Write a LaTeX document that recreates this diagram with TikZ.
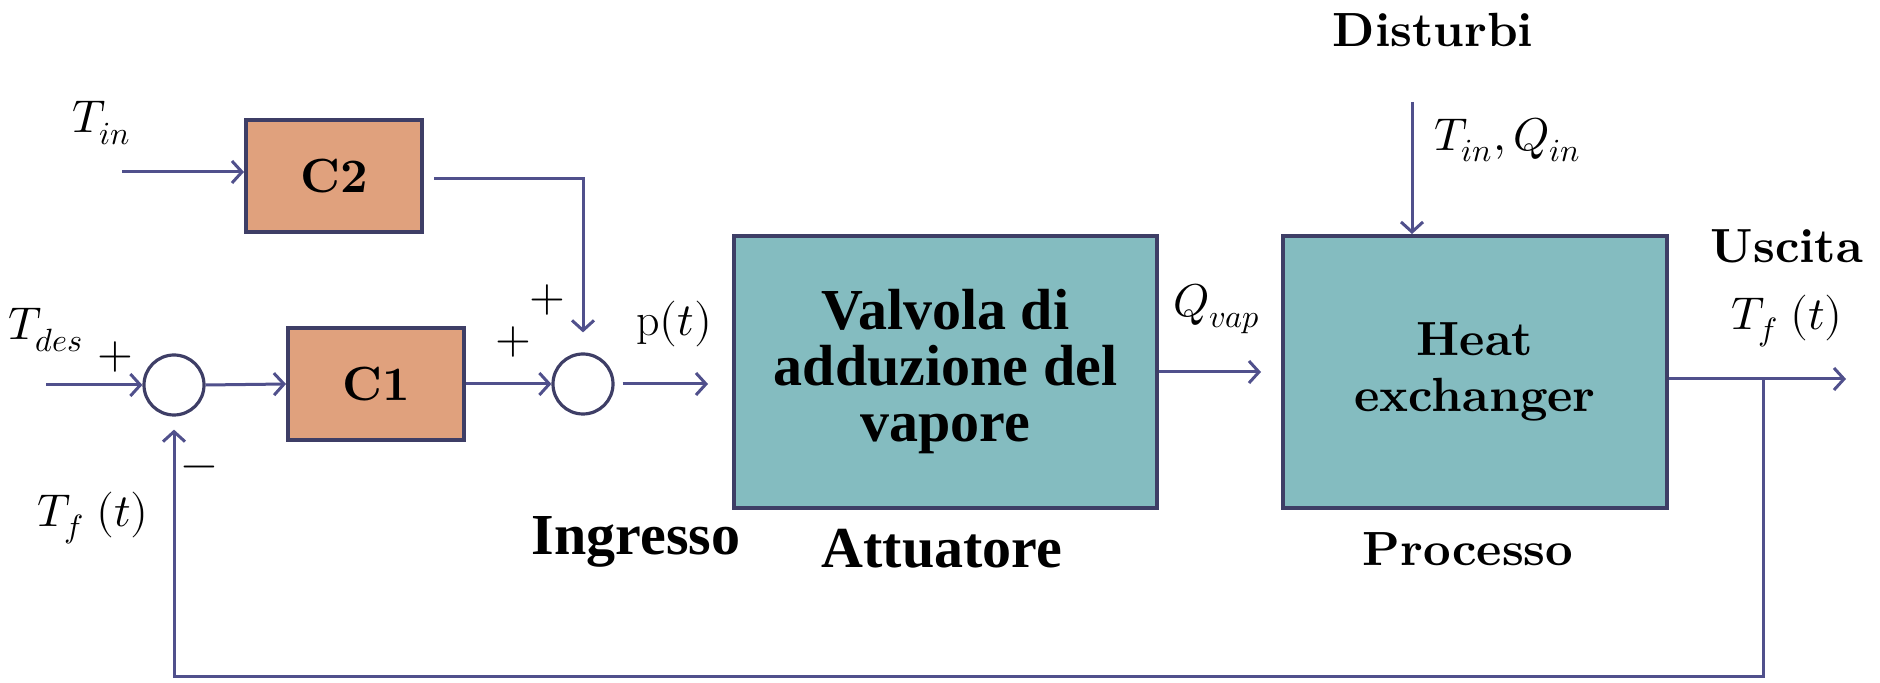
\documentclass[tikz,border=0pt]{standalone}
\usepackage{fontspec}
\usepackage{unicode-math}
\setmathfont{Latin Modern Math}
\newfontfamily\timesfont{Liberation Serif}
\newfontfamily\lmgrassetto{lmroman10-bold.otf}
\usepackage{tikz}
\usetikzlibrary{arrows.meta}

\definecolor{linea}{RGB}{80,80,140}
\definecolor{bordo}{RGB}{62,62,102}
\definecolor{arancio}{RGB}{224,161,125}
\definecolor{ciano}{RGB}{132,188,192}

\newcommand{\titolo}{\lmgrassetto\fontsize{24}{28}\selectfont}
\newcommand{\testovalv}{\timesfont\bfseries\fontsize{29}{28}\selectfont}
\newcommand{\etichetta}{\normalfont\fontsize{23}{26}\selectfont}

\tikzset{
  blocco/.style = {draw=bordo, line width=2pt, inner sep=0pt, align=center},
  ctrl/.style = {blocco, fill=arancio, minimum width=88pt, minimum height=56pt, font=\titolo},
  impianto/.style = {blocco, fill=ciano, minimum height=136pt},
  somma/.style = {circle, draw=bordo, line width=1.6pt, minimum size=30pt, inner sep=0pt},
  freccia/.style = {draw=linea, line width=1.5pt,
    -{Straight Barb[length=5pt,width=11pt,line width=1.5pt]}},
  lbl/.style = {font=\etichetta, inner sep=0pt},
}

\begin{document}
\begin{tikzpicture}[x=0.5pt, y=-0.5pt]
  \useasboundingbox (0,0) rectangle (1880,683);

  % blocchi
  \node[ctrl] (c2) at (334,176) {C2};
  \node[ctrl] (c1) at (376,384) {C1};
  \node[somma] (sum1) at (174,385) {};
  \node[somma] (sum2) at (583,384) {};
  \node[impianto, minimum width=211.5pt, font=\testovalv] (valv) at (945.5,372)
  {Valvola di\\adduzione del\\vapore};
  \node[impianto, minimum width=192pt, font=\titolo] (hx) at (1475,372)
  {Heat\\exchanger};

  % collegamenti
  \coordinate (tinin) at (122,172);
  \draw[freccia] (tinin) -- (tinin -| c2.west);
  \coordinate (c2out) at (434,179);
  \draw[freccia, shorten >=10pt] (c2out) -| (sum2.north);
  \coordinate (tdesin) at (46,385);
  \draw[freccia] (tdesin) -- (sum1.west);
  \draw[freccia] (sum1.east) -- (c1.west);
  \draw[freccia] (c1.east) -- (sum2.west);
  \draw[freccia, shorten <=4pt, shorten >=12pt] (sum2.east) -- (valv.west |- sum2.east);
  \draw[freccia, shorten >=10pt] (valv.east) -- (hx.west);
  \coordinate (dist) at (1412,102);
  \draw[freccia] (dist) -- (dist |- hx.north);
  \coordinate (uscita) at (1846,379);
  \draw[freccia] (hx.east |- uscita) -- (uscita);
  \coordinate (ramo) at (1763,379);
  \coordinate (fondo) at (1763,677);
  \draw[freccia, shorten >=6.5pt] (ramo) -- (fondo) -| (sum1.south);

  % etichette
  \node[lbl] (tin) at (102,123) {$T_{in}$};
  \node[lbl] (tdes) at (46,330) {$T_{des}$};
  \node[lbl] (piu1) at (115,357) {$+$};
  \node[lbl] (meno) at (199,472) {$-$};
  \node[lbl] (tfb) at (93,518) {$T_f\;(t)$};
  \node[lbl] (piu2) at (547,300) {$+$};
  \node[lbl] (piu3) at (513,342) {$+$};
  \node[lbl] (pt) at (674,324) {$\mathrm{p}(t)$};
  \node[lbl] (qvap) at (1217,309) {$Q_{vap}$};
  \node[lbl] (tinqin) at (1508,140) {$T_{in}, Q_{in}$};
  \node[lbl] (tfout) at (1787,321) {$T_f\;(t)$};
  \node[font=\testovalv] (ingr) at (636,542) {Ingresso};
  \node[font=\testovalv] (attu) at (942,549) {Attuatore};
  \node[font=\titolo] (proc) at (1468,549) {Processo};
  \node[font=\titolo] (distu) at (1433,30) {Disturbi};
  \node[font=\titolo] (usc) at (1787,246) {Uscita};
\end{tikzpicture}
\end{document}
